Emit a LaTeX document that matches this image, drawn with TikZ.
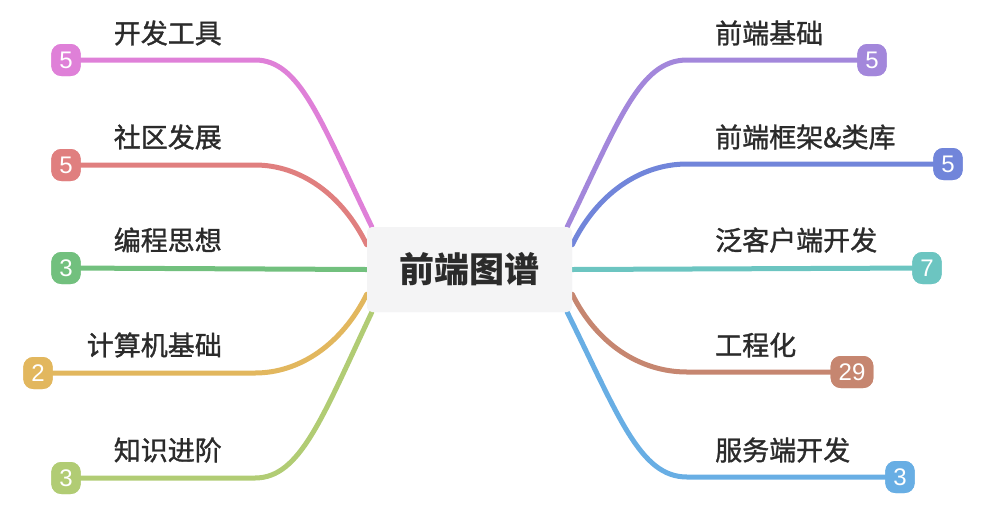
\documentclass[tikz,border=0pt]{standalone}
\usepackage{fontspec}
\setmainfont{Liberation Sans}
\newfontfamily\cjk{Noto Sans CJK SC}
\newfontfamily\cjkmed[FakeBold=1.2]{Noto Sans CJK SC}
\definecolor{txt}{HTML}{2B2B2B}
\definecolor{cpink}{HTML}{DF80D8}
\definecolor{cred}{HTML}{E07F7F}
\definecolor{cgreen}{HTML}{72C07E}
\definecolor{corange}{HTML}{E2B75E}
\definecolor{clgreen}{HTML}{B1CC74}
\definecolor{cpurple}{HTML}{A387DB}
\definecolor{cblue}{HTML}{7185DA}
\definecolor{cteal}{HTML}{6CC5C1}
\definecolor{cbrown}{HTML}{C68670}
\definecolor{clblue}{HTML}{68AEE4}
\definecolor{boxbg}{HTML}{F4F4F5}
\tikzset{
  rootbox/.style={fill=boxbg, rounded corners=5pt, minimum width=205pt, minimum height=85pt, inner sep=0pt, text=txt, font=\cjk\bfseries\fontsize{35}{35}\selectfont},
  lbl/.style={text=txt, inner sep=0pt, font=\cjkmed\fontsize{27}{27}\selectfont},
  badge/.style={fill=#1, rounded corners=10pt, minimum width=29pt, minimum height=32pt, inner xsep=8pt, inner ysep=3pt, text=white, font=\fontsize{24}{24}\selectfont},
  branch/.style={draw=#1, line width=5pt, line cap=round}
}
\begin{document}
\begin{tikzpicture}[x=1pt,y=-1pt]
\useasboundingbox (0,0) rectangle (1003,515);
% root
\node[rootbox] (root) at (469.5,269.5) {前端图谱};
% badges
\node[badge=cpink] (b1) at (66,60) {5};
\node[badge=cred] (b2) at (66,165) {5};
\node[badge=cgreen] (b3) at (66,268) {3};
\node[badge=corange] (b4) at (38,373) {2};
\node[badge=clgreen] (b5) at (66,478) {3};
\node[badge=cpurple] (b6) at (872,60) {5};
\node[badge=cblue] (b7) at (948,164) {5};
\node[badge=cteal] (b8) at (927,268) {7};
\node[badge=cbrown] (b9) at (852,372) {29};
\node[badge=clblue] (b10) at (900,477) {3};
% labels
\node[lbl, anchor=east] (l1) at (222,33) {开发工具};
\node[lbl, anchor=east] (l2) at (222,137) {社区发展};
\node[lbl, anchor=east] (l3) at (222,240) {编程思想};
\node[lbl, anchor=east] (l4) at (222,345) {计算机基础};
\node[lbl, anchor=east] (l5) at (222,450) {知识进阶};
\node[lbl, anchor=west] (l6) at (715,33) {前端基础};
\node[lbl, anchor=west] (l7) at (715,137) {前端框架\&类库};
\node[lbl, anchor=west] (l8) at (715,240) {泛客户端开发};
\node[lbl, anchor=west] (l9) at (715,345) {工程化};
\node[lbl, anchor=west] (l10) at (715,450) {服务端开发};
% branches
\draw[branch=cpink] ([xshift=5pt]root.north west) .. controls (320,120) and (300,60) .. (255,60) -- (b1.center);
\draw[branch=cred] ([yshift=-18pt]root.north west) .. controls (342,194) and (300,165) .. (255,165) -- (b2.center);
\draw[branch=cgreen] (root.west) -- (b3.center);
\draw[branch=corange] ([yshift=18pt]root.south west) .. controls (342,344) and (300,373) .. (255,373) -- (b4.center);
\draw[branch=clgreen] ([xshift=5pt]root.south west) .. controls (322,418) and (300,478) .. (255,478) -- (b5.center);
\draw[branch=cpurple] ([xshift=-5pt]root.north east) .. controls (619,120) and (640,60) .. (687,60) -- (b6.center);
\draw[branch=cblue] ([yshift=-18pt]root.north east) .. controls (597,194) and (640,164) .. (687,164) -- (b7.center);
\draw[branch=cteal] (root.east) -- (b8.center);
\draw[branch=cbrown] ([yshift=18pt]root.south east) .. controls (597,344) and (640,372) .. (687,372) -- (b9.center);
\draw[branch=clblue] ([xshift=-5pt]root.south east) .. controls (619,417) and (640,477) .. (687,477) -- (b10.center);
% redraw nodes on top of the branches
\node[rootbox] at (root.center) {前端图谱};
\node[badge=cpink] at (b1.center) {5};
\node[badge=cred] at (b2.center) {5};
\node[badge=cgreen] at (b3.center) {3};
\node[badge=corange] at (b4.center) {2};
\node[badge=clgreen] at (b5.center) {3};
\node[badge=cpurple] at (b6.center) {5};
\node[badge=cblue] at (b7.center) {5};
\node[badge=cteal] at (b8.center) {7};
\node[badge=cbrown] at (b9.center) {29};
\node[badge=clblue] at (b10.center) {3};
\end{tikzpicture}
\end{document}
